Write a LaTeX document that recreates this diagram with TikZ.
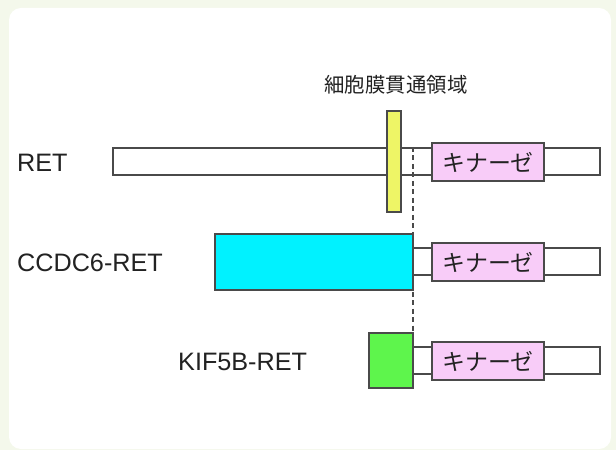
\documentclass[tikz,border=0pt]{standalone}
\usepackage{fontspec}
\setmainfont{Liberation Sans}
\newfontfamily\jpfont{Noto Sans CJK JP}
\definecolor{bgout}{HTML}{F4F8EB}
\definecolor{edge}{HTML}{4A4A4A}
\definecolor{tmyellow}{HTML}{EEF566}
\definecolor{kinpink}{HTML}{F8CCF8}
\definecolor{ccdcyan}{HTML}{00F2FF}
\definecolor{kifgreen}{HTML}{5EF54C}
\definecolor{txt}{HTML}{222222}
\begin{document}
\begin{tikzpicture}[x=1bp,y=-1bp,
  box/.style={draw=edge,line width=1.3bp,inner sep=0pt,outer sep=0pt,rectangle},
  bar/.style={box,fill=white,minimum height=27bp},
  kinase/.style={box,fill=kinpink,minimum width=112bp,minimum height=38bp,font=\jpfont\fontsize{23}{23}\selectfont,text=txt},
  lbl/.style={anchor=west,inner sep=0pt,font=\fontsize{25.3}{25.3}\selectfont,text=txt},
  dashline/.style={draw=edge,line width=1.3bp,dash pattern=on 5bp off 3.5bp}]
\useasboundingbox (0,0) rectangle (616,450);
\fill[bgout] (0,0) rectangle (616,450);
\fill[white,rounded corners=12bp] (9,8) rectangle (611,449);
% title
\node[inner sep=0pt,font=\jpfont\fontsize{20.5}{20.5}\selectfont,text=txt] (title) at (396,85) {細胞膜貫通領域};
% row 1: RET
\node[bar,minimum width=487bp] (retbar) at (356.5,161.5) {};
\node[box,fill=tmyellow,minimum width=14bp,minimum height=101bp] (tm) at (394,161.5) {};
\node[kinase] (kin1) at (488,162) {キナーゼ};
\node[lbl] (retlbl) at (17,163) {RET};
% row 2: CCDC6-RET
\node[box,fill=ccdcyan,minimum width=198bp,minimum height=56bp] (ccdc) at (314,262) {};
\node[bar,minimum width=187bp] (bar2) at (506.5,261.5) {};
\node[kinase] (kin2) at (488,262) {キナーゼ};
\node[lbl] (ccdclbl) at (17,263) {CCDC6-RET};
% row 3: KIF5B-RET
\node[box,fill=kifgreen,minimum width=44bp,minimum height=55bp] (kif) at (391,360.5) {};
\node[bar,minimum width=187bp] (bar3) at (506.5,360.5) {};
\node[kinase] (kin3) at (488,361) {キナーゼ};
\node[lbl] (kiflbl) at (178,361.5) {KIF5B-RET};
% breakpoint dashed line
\coordinate (bp) at ([yshift=1bp]retbar.north -| kif.east);
\draw[dashline] (bp) -- (kif.south east);
\end{tikzpicture}
\end{document}
